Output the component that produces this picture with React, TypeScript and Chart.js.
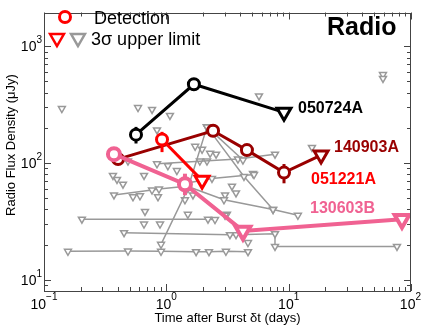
import React, { useEffect, useRef } from "react";
import { Chart, registerables } from "chart.js";

Chart.register(...registerables);

// ---------------- Data ----------------
const xTickValues = [0.1, 1, 10, 100];
const xTickExponents = ["\u22121", "0", "1", "2"];
const yTickValues = [10, 100, 1000];
const yTickExponents = ["1", "2", "3"];

const xAxisTitle = "Time after Burst \u03b4t (days)";
const yAxisTitle = "Radio Flux Density (\u03bcJy)";
const panelTitle = "Radio";
const legendDetection = "Detection";
const legendLimit = "3\u03c3 upper limit";

// GRB 050724A
const grb050724aX = [0.565, 1.68, 9.16];
const grb050724aY = [175, 473, 272];
const grb050724aLimit = [false, false, true];
const grb050724aErrLow = [147, null, null];
const grb050724aErrHigh = [204, null, null];

// GRB 140903A
const grb140903aX = [0.403, 2.41, 4.56, 9.16, 18.4];
const grb140903aY = [108, 189, 129, 82.8, 117];
const grb140903aLimit = [false, false, false, false, true];
const grb140903aErrLow = [null, null, null, 67, null];
const grb140903aErrHigh = [null, null, null, 98, null];

// GRB 051221A
const grb051221aX = [0.922, 1.96];
const grb051221aY = [159, 71];
const grb051221aLimit = [false, true];
const grb051221aErrLow = [124, null];
const grb051221aErrHigh = [185, null];

// GRB 130603B
const grb130603bX = [0.373, 1.42, 4.23, 84.4];
const grb130603bY = [119, 65.8, 26.2, 33.0];
const grb130603bLimit = [false, false, true, true];
const grb130603bErrLow = [null, 53, null, null];
const grb130603bErrHigh = [null, 81, null, null];

// Other short GRBs: 3-sigma upper limits (gray), connected sets
const grayAX = [0.157, 0.486, 0.905, 1.75, 2.23, 3.07, 4.65];
const grayAY = [17.5, 17.6, 17.5, 17.4, 17.4, 17.5, 17.4];
const grayBX = [0.204, 2.19, 2.5];
const grayBY = [33.0, 33.0, 32.8];
const grayCX = [0.451, 3.31, 3.71, 7.73, 7.73, 76.8];
const grayCY = [25.3, 24.3, 24.3, 24.8, 19.3, 19.3];
const grayDX = [0.373, 0.764, 0.871, 1.45];
const grayDY = [53.3, 58.7, 59.8, 63.3];
const grayEX = [0.905, 1.5, 2.15];
const grayEY = [20.1, 60.5, 204];
const grayFX = [2.15, 4.23];
const grayFY = [204, 106];
const grayGX = [1.48, 2.96, 7.45, 11.9];
const grayGY = [63.3, 48.4, 40.0, 35.6];
const grayHX = [2.15, 4.31, 7.45];
const grayHY = [204, 76.7, 40.0];
const grayIX = [0.839, 3.85, 7.73];
const grayIY = [98.4, 108, 119];
const grayJX = [1.45, 2.36, 5.21];
const grayJY = [67.1, 73.8, 79.7];

// isolated gray upper limits
const graySoloX = [0.14, 0.587, 0.764, 1.07, 0.839, 0.486, 1.03, 0.366, 0.395, 0.442, 0.657, 1.22, 0.534, 0.609, 0.855, 0.669, 1.5, 3.13, 0.657, 0.888, 4.65, 1.42, 1.65, 3.02, 3.71, 3.44, 1.72, 1.96, 2.28, 2.55, 1.88, 2.15, 5.72, 15.5, 59.0, 59.0, 3.02, 5.11];
const graySoloY = [293, 299, 288, 256, 192, 104, 94.7, 78.2, 72.4, 65.8, 78.2, 86.1, 51.3, 52.3, 51.3, 38.5, 36.3, 36.3, 30.0, 30.0, 20.8, 48.4, 53.3, 53.3, 55.4, 63.3, 139, 131, 121, 119, 104, 104, 376, 136, 573, 531, 35.6, 81.3];

// ---------------- Styles ----------------
const BLACK = "#000000";
const DARKRED = "#990000";
const RED = "#ff0000";
const PINK = "#f06292";
const GRAY = "#999999";
const FONT = '"Liberation Sans", Arial, Helvetica, sans-serif';

function pts(xs: number[], ys: number[]) {
  return xs.map((x, i) => ({ x, y: ys[i] }));
}

function mainDataset(label: string, xs: number[], ys: number[], limits: boolean[], errLow: any[], errHigh: any[], color: string, width: number, circleR: number, triR: number, order: number) {
  return {
    label,
    data: pts(xs, ys),
    showLine: true,
    borderColor: color,
    borderWidth: width,
    pointStyle: limits.map((l) => (l ? "triangle" : "circle")),
    rotation: limits.map((l) => (l ? 180 : 0)),
    pointRotation: limits.map((l) => (l ? 180 : 0)),
    pointRadius: limits.map((l) => (l ? triR : circleR)),
    pointHoverRadius: limits.map((l) => (l ? triR : circleR)),
    pointBackgroundColor: "#ffffff",
    pointBorderColor: color,
    pointBorderWidth: width,
    errLow,
    errHigh,
    order,
  };
}

function grayDataset(xs: number[], ys: number[], line: boolean) {
  return {
    label: "gray",
    data: pts(xs, ys),
    showLine: line,
    borderColor: GRAY,
    borderWidth: 1.5,
    pointStyle: "triangle",
    pointRotation: 180,
    pointRadius: 4,
    pointHoverRadius: 4,
    pointBackgroundColor: "#ffffff",
    pointBorderColor: GRAY,
    pointBorderWidth: 1.5,
    order: 10,
  };
}

function drawTri(ctx: CanvasRenderingContext2D, x: number, y: number, r: number, color: string, lw: number) {
  ctx.save();
  ctx.beginPath();
  for (let k = 0; k < 3; k++) {
    const a = Math.PI + (k * 2 * Math.PI) / 3;
    const px = x + Math.sin(a) * r;
    const py = y - Math.cos(a) * r;
    if (k === 0) ctx.moveTo(px, py);
    else ctx.lineTo(px, py);
  }
  ctx.closePath();
  ctx.fillStyle = "#fff";
  ctx.fill();
  ctx.strokeStyle = color;
  ctx.lineWidth = lw;
  ctx.stroke();
  ctx.restore();
}

function drawPow(ctx: CanvasRenderingContext2D, base: string, exp: string, x: number, baseY: number, expY: number, align: string, maxRight: number) {
  ctx.font = "14px " + FONT;
  const wb = ctx.measureText(base).width;
  ctx.font = "10px " + FONT;
  const we = ctx.measureText(exp).width;
  const total = wb + we;
  let start = align === "center" ? x - total / 2 : x - total;
  if (start + total > maxRight) start = maxRight - total;
  ctx.textAlign = "left";
  ctx.textBaseline = "alphabetic";
  ctx.fillStyle = "#000";
  ctx.font = "14px " + FONT;
  ctx.fillText(base, start, baseY);
  ctx.font = "10px " + FONT;
  ctx.fillText(exp, start + wb, expY);
}

const decorPlugin = {
  id: "decor",
  beforeDatasetDraw(chart: any, args: any) {
    const ds = chart.data.datasets[args.index];
    if (!ds.errLow) return;
    const ctx = chart.ctx;
    const xs = chart.scales.x;
    const ys = chart.scales.y;
    ctx.save();
    ctx.strokeStyle = ds.borderColor;
    ctx.lineWidth = ds.borderWidth;
    ds.data.forEach((p: any, i: number) => {
      const lo = ds.errLow[i];
      const hi = ds.errHigh[i];
      if (lo == null || hi == null) return;
      const px = xs.getPixelForValue(p.x);
      ctx.beginPath();
      ctx.moveTo(px, ys.getPixelForValue(lo));
      ctx.lineTo(px, ys.getPixelForValue(hi));
      ctx.stroke();
    });
    ctx.restore();
  },
  afterDraw(chart: any) {
    const ctx: CanvasRenderingContext2D = chart.ctx;
    const { left, right, top, bottom } = chart.chartArea;
    const xs = chart.scales.x;
    const ys = chart.scales.y;
    ctx.save();
    // frame
    ctx.strokeStyle = "#444";
    ctx.lineWidth = 1;
    ctx.strokeRect(Math.round(left) + 0.5, Math.round(top) + 0.5, Math.round(right - left) - 1, Math.round(bottom - top) - 1);
    // x ticks
    for (const d of [0.1, 1, 10, 100]) {
      for (let m = 1; m <= 9; m++) {
        const v = d * m;
        if (v < 0.1 - 1e-9 || v > 100 + 1e-9) continue;
        const px = Math.round(xs.getPixelForValue(v)) + 0.5;
        const len = m === 1 ? 7 : 4;
        ctx.beginPath();
        ctx.moveTo(px, bottom);
        ctx.lineTo(px, bottom - len);
        ctx.moveTo(px, top);
        ctx.lineTo(px, top + len);
        ctx.stroke();
      }
    }
    // y ticks
    for (const d of [1, 10, 100, 1000]) {
      for (let m = 1; m <= 9; m++) {
        const v = d * m;
        if (v < ys.min || v > ys.max) continue;
        const py = Math.round(ys.getPixelForValue(v)) + 0.5;
        const len = m === 1 ? 7 : 4;
        ctx.beginPath();
        ctx.moveTo(left, py);
        ctx.lineTo(left + len, py);
        ctx.moveTo(right, py);
        ctx.lineTo(right - len, py);
        ctx.stroke();
      }
    }
    // tick labels
    xTickValues.forEach((v, i) => {
      drawPow(ctx, "10", xTickExponents[i], xs.getPixelForValue(v), bottom + 18, bottom + 9, "center", 421);
    });
    yTickValues.forEach((v, i) => {
      const py = ys.getPixelForValue(v);
      drawPow(ctx, "10", yTickExponents[i], left - 2, py + 5, py - 3, "right", 9999);
    });
    // axis titles
    ctx.fillStyle = "#000";
    ctx.font = "13px " + FONT;
    ctx.textAlign = "center";
    ctx.textBaseline = "middle";
    ctx.fillText(xAxisTitle, (left + right) / 2, 318);
    ctx.save();
    ctx.translate(11, 145);
    ctx.rotate(-Math.PI / 2);
    ctx.fillText(yAxisTitle, 0, 0);
    ctx.restore();

    // panel title
    ctx.textAlign = "left";
    ctx.textBaseline = "alphabetic";
    ctx.font = "bold 25px " + FONT;
    ctx.fillText(panelTitle, 327, 35);

    // legend
    ctx.beginPath();
    ctx.arc(65, 17, 5.5, 0, Math.PI * 2);
    ctx.fillStyle = "#fff";
    ctx.fill();
    ctx.strokeStyle = RED;
    ctx.lineWidth = 3;
    ctx.stroke();
    drawTri(ctx, 57, 38, 8, RED, 2.5);
    drawTri(ctx, 78, 38, 8, GRAY, 2.5);
    ctx.fillStyle = "#000";
    ctx.font = "18px " + FONT;
    ctx.fillText(legendDetection, 94, 24);
    ctx.fillText(legendLimit, 91, 45);

    // series labels
    ctx.font = "bold 16px " + FONT;
    ctx.fillStyle = BLACK;
    ctx.fillText("050724A", 298, 113);
    ctx.fillStyle = DARKRED;
    ctx.fillText("140903A", 334, 152);
    ctx.fillStyle = RED;
    ctx.fillText("051221A", 311, 184);
    ctx.fillStyle = PINK;
    ctx.fillText("130603B", 310, 213);
    ctx.restore();
  },
};

export default function App() {
  const ref = useRef<HTMLCanvasElement>(null);
  useEffect(() => {
    if (!ref.current) return;
    const datasets: any[] = [
      mainDataset("130603B", grb130603bX, grb130603bY, grb130603bLimit, grb130603bErrLow, grb130603bErrHigh, PINK, 4, 6, 8.5, 1),
      mainDataset("051221A", grb051221aX, grb051221aY, grb051221aLimit, grb051221aErrLow, grb051221aErrHigh, RED, 3, 5.5, 8, 2),
      mainDataset("140903A", grb140903aX, grb140903aY, grb140903aLimit, grb140903aErrLow, grb140903aErrHigh, DARKRED, 3, 5.5, 8, 3),
      mainDataset("050724A", grb050724aX, grb050724aY, grb050724aLimit, grb050724aErrLow, grb050724aErrHigh, BLACK, 3, 5.5, 8, 4),
      grayDataset(grayAX, grayAY, true),
      grayDataset(grayBX, grayBY, true),
      grayDataset(grayCX, grayCY, true),
      grayDataset(grayDX, grayDY, true),
      grayDataset(grayEX, grayEY, true),
      grayDataset(grayFX, grayFY, true),
      grayDataset(grayGX, grayGY, true),
      grayDataset(grayHX, grayHY, true),
      grayDataset(grayIX, grayIY, true),
      grayDataset(grayJX, grayJY, true),
      grayDataset(graySoloX, graySoloY, false),
    ];
    const chart = new Chart(ref.current, {
      type: "scatter",
      data: { datasets },
      options: {
        animation: false,
        responsive: false,
        maintainAspectRatio: false,
        devicePixelRatio: 1,
        layout: { padding: { top: 4, right: 13, left: 0, bottom: 0 } },
        plugins: { legend: { display: false }, tooltip: { enabled: false } },
        elements: { line: { tension: 0 } },
        scales: {
          x: {
            type: "logarithmic",
            min: 0.1,
            max: 100,
            grid: { display: false },
            border: { display: false },
            ticks: { display: false },
            afterFit: (s: any) => {
              s.height = 38;
            },
          },
          y: {
            type: "logarithmic",
            min: 8,
            max: 1950,
            grid: { display: false },
            border: { display: false },
            ticks: { display: false },
            afterFit: (s: any) => {
              s.width = 44;
            },
          },
        },
      } as any,
      plugins: [decorPlugin as any],
    });
    return () => chart.destroy();
  }, []);
  return (
    <div style={{ position: "absolute", left: 0, top: 0, width: 424, height: 329, background: "#fff" }}>
      <canvas ref={ref} width={424} height={329} style={{ display: "block", width: 424, height: 329 }} />
    </div>
  );
}
